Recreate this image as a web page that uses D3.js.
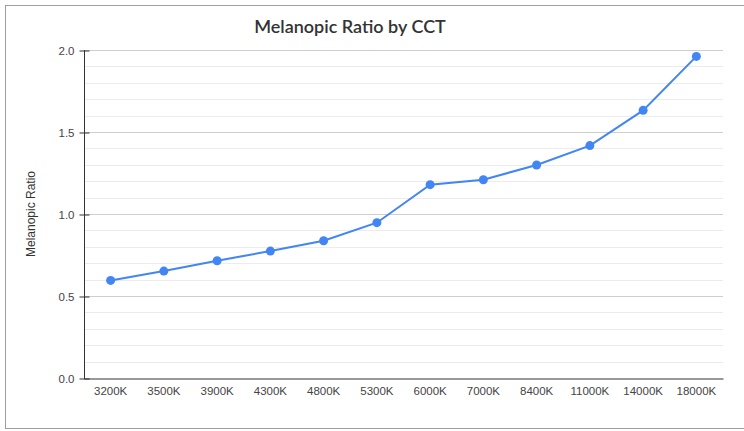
<!DOCTYPE html>
<html><head><meta charset="utf-8">
<script src="https://cdn.jsdelivr.net/npm/d3@7"></script>
<style>body{margin:0;background:#fff;}svg{display:block;}</style>
</head><body>
<svg id="c" width="744" height="431"></svg>
<script>
const categories = ["3200K","3500K","3900K","4300K","4800K","5300K","6000K","7000K","8400K","11000K","14000K","18000K"];
const ratios = [0.595,0.652,0.715,0.774,0.837,0.947,1.179,1.209,1.299,1.417,1.632,1.961];
const yTicks = [0,0.5,1.0,1.5,2.0];
const title = "Melanopic Ratio by CCT";
const yLabel = "Melanopic Ratio";

const svg = d3.select("#c");
const m = {left:84, right:723, top:50, bottom:378};
const sans = "'Liberation Sans',Arial,sans-serif";

svg.append("rect").attr("x",5.5).attr("y",5.5).attr("width",780).attr("height",423)
  .attr("fill","#fff").attr("stroke","#9e9e9e").attr("stroke-width",1);

const x = d3.scaleBand().domain(categories).range([m.left,m.right]);
const y = d3.scaleLinear().domain([0,2]).range([m.bottom,m.top]);

const minor = d3.range(1,20).filter(i=>i%5!==0).map(i=>i/10);
svg.append("g").selectAll("line").data(minor).join("line")
  .attr("x1",m.left).attr("x2",m.right)
  .attr("y1",d=>Math.round(y(d))+0.5).attr("y2",d=>Math.round(y(d))+0.5)
  .attr("stroke","#ececec").attr("stroke-width",1);
svg.append("g").selectAll("line").data(yTicks.filter(d=>d>0)).join("line")
  .attr("x1",m.left).attr("x2",m.right)
  .attr("y1",d=>Math.round(y(d))+0.5).attr("y2",d=>Math.round(y(d))+0.5)
  .attr("stroke","#cfcfcf").attr("stroke-width",1);

const ya = svg.append("g").attr("transform",`translate(${m.left+0.5},0.5)`)
  .call(d3.axisLeft(y).tickValues(yTicks).tickFormat(d3.format(".1f")).tickSize(5).tickPadding(5));
ya.select(".domain").remove();
ya.selectAll(".tick line").attr("x1",-5).attr("x2",5).attr("stroke","#333");
ya.selectAll("text").attr("fill","#444").style("font-family",sans).style("font-size","11.5px");
svg.append("line").attr("x1",m.left+0.5).attr("x2",m.left+0.5).attr("y1",m.top).attr("y2",m.bottom+1)
  .attr("stroke","#333").attr("stroke-width",1);

const xa = svg.append("g").attr("transform",`translate(0,${m.bottom+0.5})`)
  .call(d3.axisBottom(x).tickSize(0).tickPadding(8));
xa.select(".domain").attr("stroke","#333");
xa.selectAll("text").attr("fill","#444").style("font-family",sans).style("font-size","11.5px");

const cx = d => x(d) + x.bandwidth()/2;
const line = d3.line().x((d,i)=>cx(categories[i])).y(d=>y(d));
svg.append("path").datum(ratios).attr("d",line).attr("fill","none")
  .attr("stroke","#4285f4").attr("stroke-width",2);
svg.append("g").selectAll("circle").data(ratios).join("circle")
  .attr("cx",(d,i)=>cx(categories[i])).attr("cy",d=>y(d)).attr("r",4.5).attr("fill","#4285f4");

svg.append("text").attr("x",350).attr("y",33).attr("text-anchor","middle")
  .attr("fill","#333").style("font-family","Lato,'Open Sans',sans-serif").style("font-weight","600").style("font-size","18px")
  .text(title);

svg.append("text").attr("transform",`translate(35,${(m.top+m.bottom)/2}) rotate(-90)`)
  .attr("text-anchor","middle").attr("fill","#333")
  .style("font-family",sans).style("font-size","12px").text(yLabel);
</script>
</body></html>
